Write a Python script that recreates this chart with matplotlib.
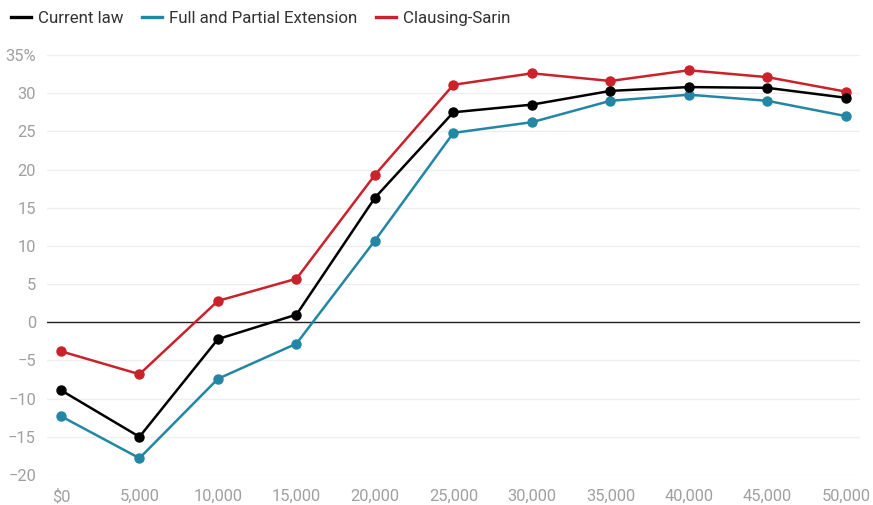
import matplotlib
matplotlib.use("Agg")
import matplotlib.pyplot as plt
from matplotlib.lines import Line2D

plt.rcParams['font.family'] = ['Roboto', 'DejaVu Sans']

income = [0, 5000, 10000, 15000, 20000, 25000, 30000, 35000, 40000, 45000, 50000]
x_labels = ["$0", "5,000", "10,000", "15,000", "20,000", "25,000",
            "30,000", "35,000", "40,000", "45,000", "50,000"]
current_law = [-8.9, -15.0, -2.2, 1.0, 16.3, 27.5, 28.5, 30.3, 30.8, 30.7, 29.4]
full_partial = [-12.3, -17.8, -7.4, -2.8, 10.7, 24.8, 26.2, 29.0, 29.8, 29.0, 27.0]
clausing_sarin = [-3.8, -6.8, 2.8, 5.7, 19.3, 31.1, 32.6, 31.6, 33.0, 32.1, 30.2]
y_ticks = [-20, -15, -10, -5, 0, 5, 10, 15, 20, 25, 30, 35]
y_labels = ["\u221220", "\u221215", "\u221210", "\u22125", "0", "5", "10", "15",
            "20", "25", "30", "35%"]

series = [
    ("Clausing-Sarin", clausing_sarin, "#c9222a", 3),
    ("Full and Partial Extension", full_partial, "#2386a5", 4),
    ("Current law", current_law, "#000000", 5),
]

W, H = 873, 505
fig = plt.figure(figsize=(W / 100, H / 100), dpi=100)
ax = fig.add_axes([47 / W, 1 - 475 / H, 813 / W, 420 / H])

for name, vals, color, z in series:
    ax.plot(income, vals, color=color, lw=1.8, marker="o", ms=6.5,
            zorder=z, clip_on=False, solid_joinstyle="round")

ax.set_xlim(-890, 50900)
ax.set_ylim(-20, 35)
ax.set_yticks(y_ticks)
ax.set_yticklabels(y_labels)
ax.set_xticks(income)
ax.set_xticklabels(x_labels)

for s in ax.spines.values():
    s.set_visible(False)
ax.grid(axis="y", color="#eeeeee", lw=0.9)
ax.grid(axis="x", visible=False)
ax.axhline(0, color="#222222", lw=1.0, zorder=2)
ax.tick_params(axis="both", length=0, labelsize=11.9, labelcolor="#a0a0a0")
ax.tick_params(axis="y", pad=8)
ax.tick_params(axis="x", pad=10)

handles = [
    Line2D([0], [0], color="#000000", lw=2.4),
    Line2D([0], [0], color="#2386a5", lw=2.4),
    Line2D([0], [0], color="#c9222a", lw=2.4),
]
leg = fig.legend(handles, ["Current law", "Full and Partial Extension", "Clausing-Sarin"],
                 loc="upper left", bbox_to_anchor=(0.0, 1.0), ncol=3, frameon=False,
                 fontsize=12.2, handlelength=1.2, handletextpad=0.4, columnspacing=1.1,
                 borderaxespad=0.25)
for t in leg.get_texts():
    t.set_color("#333333")

fig.savefig("out.png", dpi=100)
